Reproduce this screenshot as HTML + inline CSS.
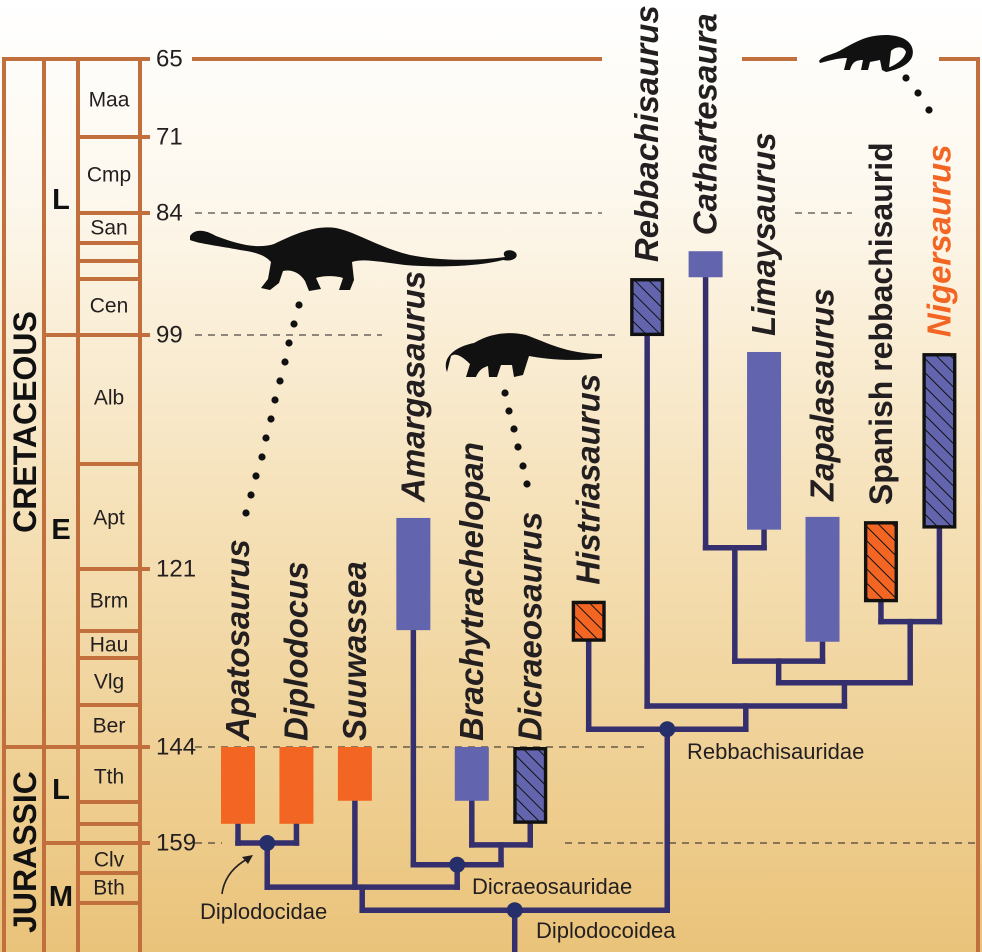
<!DOCTYPE html>
<html><head><meta charset="utf-8"><style>
html,body{margin:0;padding:0;background:#fff;}
svg{display:block;font-family:"Liberation Sans",Arial,sans-serif;}
</style></head><body>
<svg id="chart" width="982" height="952" viewBox="0 0 982 952" xmlns="http://www.w3.org/2000/svg">
<defs>
<linearGradient id="bg" x1="0" y1="0" x2="0" y2="1">
<stop offset="0" stop-color="#ffffff"/>
<stop offset="0.2" stop-color="#fdf8ee"/>
<stop offset="0.55" stop-color="#f5e0b6"/>
<stop offset="1" stop-color="#eac37a"/>
</linearGradient>
<pattern id="hatchBlue" patternUnits="userSpaceOnUse" width="10" height="10" patternTransform="rotate(-45)">
<rect width="10" height="10" fill="#6264ae"/><line x1="0" y1="0" x2="0" y2="10" stroke="#111" stroke-width="2"/>
</pattern>
<pattern id="hatchOrange" patternUnits="userSpaceOnUse" width="10" height="10" patternTransform="rotate(-45)">
<rect width="10" height="10" fill="#f26522"/><line x1="0" y1="0" x2="0" y2="10" stroke="#111" stroke-width="2"/>
</pattern>
</defs>
<rect x="0" y="0" width="982" height="952" fill="url(#bg)"/>
<g id="timescale"></g>
<g id="guides"></g>
<g id="sil">
<path fill="#111" d="M190,236 C195,228 206,230 216,236 C240,245 258,249 274,244 C295,234 315,225 336,228 C356,232 380,248 410,255 C440,261 475,261 505,257 C500,250 512,248 516,253 C519,258 512,262 503,260 C480,266 440,268 405,265 C380,262 363,258 352,262 L354,280 L350,290 L339,290 L343,278 C335,275 321,276 316,278 L321,289 L309,291 L305,281 C300,273 292,269 283,271 L279,283 L270,290 L261,288 L268,279 L271,262 C265,255 255,252 240,250 C220,246 200,244 190,240 Z"/>
<path fill="#111" d="M447,372 C441,356 458,346 474,343 C490,333 510,331 526,335 C546,342 566,354 602,354 L602,358 C572,362 546,359 529,356 L523,375 L514,377 L512,365 L501,365 L497,377 L489,377 L488,366 C481,368 478,372 476,377 L466,377 L470,364 C463,357 456,352 451,356 Z"/>
<path fill="#111" d="M819,61 C823,55 833,55 841,50 C856,42 866,35 886,35 C906,35 916,45 912,57 C908,66 896,70 886,72 L882,70 C895,66 904,60 906,52 C904,46 896,46 891,51 L889,68 L882,70 L880,60 L870,62 L868,70 L861,70 L863,60 C855,60 852,63 850,70 L844,70 L847,58 C838,58 828,61 820,63 Z"/>
</g>
<g id="dots"></g>
<g id="tree"></g>
<g id="bars"></g>
<g id="labels"></g>
<g id="clades">
<text x="200" y="919" font-size="22" fill="#231f20">Diplodocidae</text>
<path d="M222,894 C224,878 234,866 249,858" fill="none" stroke="#231f20" stroke-width="1.6"/>
<path d="M253,855 L242,857 L248,864 Z" fill="#231f20"/>
<text x="472" y="894" font-size="22" fill="#231f20">Dicraeosauridae</text>
<text x="536" y="938" font-size="22" fill="#231f20">Diplodocoidea</text>
<text x="687" y="759" font-size="22" fill="#231f20">Rebbachisauridae</text>
</g>
</svg>
<script>
const NS='http://www.w3.org/2000/svg';
// ---- data ----
const tickAges=[65,71,84,99,121,144,159];
const stageNames=['Maa','Cmp','San','Cen','Alb','Apt','Brm','Hau','Vlg','Ber','Tth','Clv','Bth'];
const taxa=['Apatosaurus','Diplodocus','Suuwassea','Amargasaurus','Brachytrachelopan','Dicraeosaurus','Histriasaurus','Rebbachisaurus','Cathartesaura','Limaysaurus','Zapalasaurus','Spanish rebbachisaurid','Nigersaurus'];
const firstAge=[156,156,152.4,128.9,152.4,156,130.4,99.1,91.9,117.3,130.4,125.3,117.2];
const lastAge=[144,144,144,116.2,144,144,125.1,92.0,88.7,100.6,116.1,116.5,100.7];
const fillType=['orange','orange','orange','blue','blue','bluehatch','orangehatch','bluehatch','blue','blue','blue','orangehatch','bluehatch'];
const nodeNames=['n1','n2','n3','n4','n8','n9','n10','n11','n12','n13','n14'];
const nodeChildren=[[0,1],[4,5],[3,'n2'],['n1',2,'n3'],[8,9],['n8',10],[11,12],['n9','n10'],[7,'n11'],[6,'n12'],['n4','n13']];
const nodeAges=[159.0,159.3,162.4,165.9,119.0,132.9,127.8,135.7,138.7,141.7,169.5];
const nodeDot=[true,false,true,false,false,false,false,false,false,true,true];

// ---- axis / layout ----
const tickPx=[59,137,213,335,569,747,843];
function y(a){
  for(let i=0;i<tickAges.length-1;i++){
    if(a<=tickAges[i+1]) return tickPx[i]+(a-tickAges[i])/(tickAges[i+1]-tickAges[i])*(tickPx[i+1]-tickPx[i]);
  }
  const n=tickAges.length-1;
  return tickPx[n]+(a-tickAges[n])*(tickPx[n]-tickPx[n-1])/(tickAges[n]-tickAges[n-1]);
}
function x(i){return 238+i*58.45;}
function mk(tag,attrs,parent){const e=document.createElementNS(NS,tag);for(const k in attrs)e.setAttribute(k,attrs[k]);parent.appendChild(e);return e;}

// ---- time scale ----
const ts=document.getElementById('timescale');
const BR='#c1703d';
function hl(x1,x2,yy,nm){const l=mk('line',{x1:x1,x2:x2,y1:yy,y2:yy,stroke:BR,'stroke-width':4},ts);

}
function vl(xx,y1,y2,nm){const l=mk('line',{x1:xx,x2:xx,y1:y1,y2:y2,stroke:BR,'stroke-width':4},ts);

}
vl(4,57,952,'period-column-left');vl(44,59,952,'epoch-column-left');vl(78,59,952,'stage-column-left');vl(140,59,952,'stage-column-right');
vl(978,57,952,'frame-right');
hl(2,150,59,'top-line-left');hl(192,602,59,'top-line-a');hl(742,797,59,'top-line-b');hl(939,980,59,'top-line-c');
tickAges.forEach((a,i)=>{
  hl(i===5?2:(i===3||i===6?42:78),150,y(a),'tick-'+a);
  const t=mk('text',{x:156,y:y(a),'font-size':24,fill:'#231f20','dominant-baseline':'central'},ts);
  
  
  t.textContent=a;
});
[243,261,279,464,631,658,705,802,824,873,903].forEach(p=>hl(78,140,p,'stage-boundary'));
const stageY=[100,175,228,306,398,518,601,645,682,726,777,860,888];
stageNames.forEach((s,i)=>{const t=mk('text',{x:109,y:stageY[i],'font-size':21,fill:'#231f20','text-anchor':'middle','dominant-baseline':'central'},ts);


t.textContent=s;});
[['L',200],['E',530],['L',790],['M',897]].forEach(([s,yy],i)=>{const t=mk('text',{x:61,y:yy,'font-size':29,'font-weight':'bold',fill:'#111','text-anchor':'middle','dominant-baseline':'central'},ts);


t.textContent=s;});
[['CRETACEOUS',422],['JURASSIC',852]].forEach(([s,yy])=>{const t=mk('text',{x:0,y:0,transform:`translate(25,${yy}) rotate(-90)`,'font-size':32,'font-weight':'bold',fill:'#111','text-anchor':'middle','dominant-baseline':'central'},ts);


t.textContent=s;});

// ---- dashed guides ----
const gd=document.getElementById('guides');
[[84,195,602],[84,795,852],[99,195,382],[99,543,620],[144,195,648],[159,195,222],[159,565,975]].forEach(([a,x1,x2])=>{
  const l=mk('line',{x1:x1,x2:x2,y1:y(a),y2:y(a),stroke:'#231f20','stroke-width':1,'stroke-dasharray':'7 6'},gd);
  
  
});

// ---- leader dots ----
const dg=document.getElementById('dots');
const dotPts=[[299,305],[294,324],[289,343],[285,362],[280,381],[275,400],[271,419],[266,438],[262,457],[256,476],[251,495],[246,513],
[505,393],[509,411],[514,429],[518,447],[523,466],[527,484],[906,78],[918,93],[929,110]];
dotPts.forEach(p=>{const c=mk('circle',{cx:p[0],cy:p[1],r:3.6,fill:'#111'},dg);

});

// ---- tree ----
const tr=document.getElementById('tree');
const TC='#352f6e';
const nodePos={};
function pos(ref){
  if(typeof ref==='number') return {x:x(ref),y:y(firstAge[ref])};
  return nodePos[ref];
}
nodeNames.forEach((nm,k)=>{
  const ch=nodeChildren[k].map(pos);
  const ny=y(nodeAges[k]);
  const xs=ch.map(c=>c.x);
  const minx=Math.min(...xs),maxx=Math.max(...xs);
  nodePos[nm]={x:(minx+maxx)/2,y:ny};
  const h=mk('line',{x1:minx,x2:maxx,y1:ny,y2:ny,stroke:TC,'stroke-width':5.5,'stroke-linecap':'square'},tr);
  
  
  ch.forEach(c=>{const v=mk('line',{x1:c.x,x2:c.x,y1:c.y,y2:ny,stroke:TC,'stroke-width':5.5,'stroke-linecap':'square'},tr);
  
  });
});
const root=nodePos['n14'];
const rs=mk('line',{x1:root.x,x2:root.x,y1:root.y,y2:952,stroke:TC,'stroke-width':5.5},tr);


nodeNames.forEach((nm,k)=>{if(!nodeDot[k])return;const p=nodePos[nm];
const c=mk('circle',{cx:p.x,cy:p.y,r:8,fill:'#272f6a'},tr);

});

// ---- bars & labels ----
const bg=document.getElementById('bars'),lg=document.getElementById('labels');
const fills={orange:'#f26522',blue:'#6264ae',bluehatch:'url(#hatchBlue)',orangehatch:'url(#hatchOrange)'};
taxa.forEach((nm,i)=>{
  const top=y(lastAge[i]),bot=y(firstAge[i]),cx=x(i);
  const hatch=fillType[i].indexOf('hatch')>=0;
  const r=hatch?mk('rect',{x:cx-15.3,y:top+1.7,width:30.6,height:bot-top-3.4,fill:fills[fillType[i]],stroke:'#111','stroke-width':3.4},bg)
                :mk('rect',{x:cx-17,y:top,width:34,height:bot-top,fill:fills[fillType[i]]},bg);
  
  
  const gap=top>740?6:16;
  const spanish=nm.indexOf(' ')>=0;
  const t=mk('text',{x:0,y:0,transform:`translate(${cx+11},${top-gap}) rotate(-90)`,'font-size':spanish?32:33,'font-weight':'bold','font-style':spanish?'normal':'italic',fill:nm==='Nigersaurus'?'#f26522':'#231f20'},lg);
  
  
  t.textContent=nm;
});
</script>
</body></html>
